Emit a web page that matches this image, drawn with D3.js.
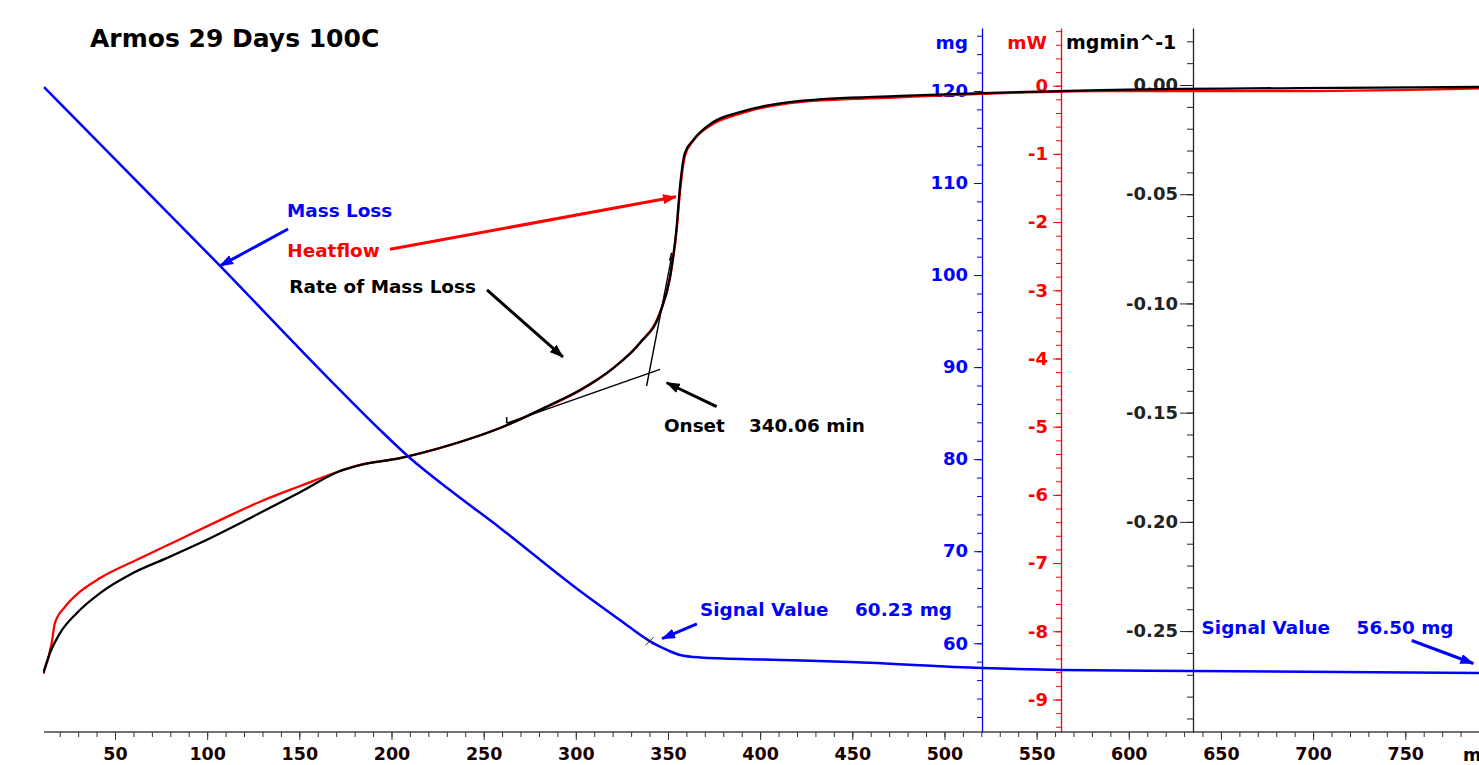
<!DOCTYPE html>
<html>
<head>
<meta charset="utf-8">
<script src="https://cdn.jsdelivr.net/npm/d3@7"></script>
<style>
  body { margin: 0; background: #fff; }
  svg text { font-family: "DejaVu Sans", Verdana, sans-serif; font-weight: bold; }
</style>
</head>
<body>
<div id="chart"></div>
<script>
const width = 1479;
const height = 765;

// mass (mg) vs time (min)
const massTime = [11.5, 107.0, 166.6, 193.8, 210.0, 231.7, 258.9, 300.1, 323.9, 340.06, 350.0, 356.5, 367.4, 400.0, 448.8, 520.4, 563.2, 634.8, 790];
const massMg   = [120.43, 101.0, 88.62, 83.17, 80.13, 76.65, 72.53, 66.01, 62.53, 60.23, 59.22, 58.73, 58.46, 58.24, 57.97, 57.32, 57.10, 57.0, 56.77];

// heatflow (mW) vs time (min)
const heatTime = [11.1, 15.6, 17.4, 22.9, 31.0, 41.9, 63.6, 85.3, 107.0, 128.7, 150.4, 172.1, 182.9, 204.6, 231.7, 258.9, 286.0, 302.3, 320.3, 334.8, 345.7, 351.1, 354.7, 356.5, 359.2, 363.7, 374.6, 389.1, 421.6, 475.9, 520.4, 584.4, 692.9, 790];
const heatMw   = [-8.62, -8.18, -7.88, -7.64, -7.42, -7.22, -6.93, -6.65, -6.37, -6.10, -5.87, -5.65, -5.56, -5.46, -5.27, -5.02, -4.69, -4.47, -4.14, -3.77, -3.32, -2.82, -2.12, -1.56, -1.03, -0.81, -0.56, -0.41, -0.24, -0.17, -0.12, -0.08, -0.08, -0.04];

// rate of mass loss (mg/min) vs time (min)
const rateTime = [11.1, 14.7, 20.2, 29.2, 41.9, 59.8, 78.0, 96.1, 123.2, 150.4, 172.1, 182.9, 204.6, 231.7, 258.9, 286.0, 302.3, 320.3, 334.8, 345.7, 351.1, 354.7, 356.5, 359.2, 363.7, 374.6, 389.1, 421.6, 475.9, 520.4, 584.4, 692.9, 790];
const rateVal  = [-0.2692, -0.2601, -0.2509, -0.2418, -0.2326, -0.2234, -0.2166, -0.2097, -0.1983, -0.1864, -0.1767, -0.1740, -0.1708, -0.1648, -0.1570, -0.1465, -0.1396, -0.1296, -0.1181, -0.1044, -0.0879, -0.0650, -0.0467, -0.0311, -0.0252, -0.0169, -0.0124, -0.0073, -0.0050, -0.0037, -0.0023, -0.0014, -0.0009];

// onset tangents on the rate curve
const tangentBase  = [[262.5, -0.1548], [345.7, -0.1302]];
const tangentSteep = [[338.4, -0.1378], [352.0, -0.0786]];
const onsetTime = 340.06;

// tick labels
const xTicks = d3.range(50, 751, 50);
const xMinor = d3.range(20, 791, 10);
const mgTicks = [60, 70, 80, 90, 100, 110, 120];
const mgMinor = d3.range(52, 127, 2);
const mwTicks = [-9, -8, -7, -6, -5, -4, -3, -2, -1, 0];
const mwMinor = d3.range(-94, 9, 2).map(d => d / 10);
const rateTicks = [-0.25, -0.20, -0.15, -0.10, -0.05, 0.00];
const rateMinor = d3.range(-29, 3, 1).map(d => d / 100);

// annotations, placed in (min, mg)
const arrows = [
  { color: "blue",  from: [143.9, 105.0], to: [107.0, 101.0] },
  { color: "red",   from: [199.2, 102.8], to: [354.3, 108.5] },
  { color: "black", from: [251.8, 98.4],  to: [293.0, 91.1] },
  { color: "black", from: [376.4, 85.7],  to: [349.3, 88.3] },
  { color: "blue",  from: [365.7, 62.1],  to: [346.8, 60.5] },
  { color: "blue",  from: [753.5, 60.3],  to: [786.9, 57.8] }
];
const notes = [
  { text: "Mass Loss",         at: [143.3, 106.26], color: "#0000ff" },
  { text: "Heatflow",          at: [143.5, 101.93], color: "#ff0000" },
  { text: "Rate of Mass Loss", at: [144.6, 98.09],  color: "#000" },
  { text: "Onset",             at: [347.8, 82.9],   color: "#000" },
  { text: "340.06 min",        at: [393.9, 82.9],   color: "#000" },
  { text: "Signal Value",      at: [367.4, 62.97],  color: "#0000ff" },
  { text: "60.23 mg",          at: [451.5, 62.97],  color: "#0000ff" },
  { text: "Signal Value",      at: [639.5, 60.98],  color: "#0000ff" },
  { text: "56.50 mg",          at: [723.6, 60.98],  color: "#0000ff" }
];

const colors = { blue: "#0000ff", red: "#ff0000", black: "#000" };

const x = d3.scaleLinear().domain([0, 790]).range([22.84, 1479]);
const yMg = d3.scaleLinear().domain([50.36, 126.84]).range([732, 28]);
const yMw = d3.scaleLinear().domain([-9.477, 0.846]).range([732, 28]);
const yRate = d3.scaleLinear().domain([-0.2962, 0.0261]).range([732, 28]);

const svg = d3.select("#chart").append("svg")
  .attr("width", width)
  .attr("height", height);

const defs = svg.append("defs");
Object.entries(colors).forEach(([id, c]) => {
  defs.append("marker")
    .attr("id", "arr-" + id)
    .attr("viewBox", "0 0 14 10")
    .attr("refX", 13).attr("refY", 5)
    .attr("markerWidth", 14).attr("markerHeight", 10)
    .attr("markerUnits", "userSpaceOnUse")
    .attr("orient", "auto")
    .append("path").attr("d", "M0,0L14,5L0,10z").attr("fill", c);
});
defs.append("clipPath").attr("id", "plot")
  .append("rect").attr("x", x(11)).attr("y", 0).attr("width", width).attr("height", 732);

function styleAxis(g, color, size) {
  g.attr("color", color)
    .attr("font-family", null)
    .attr("font-size", size || "18px")
    .attr("font-weight", "bold");
}

// x axis
const xAxisY = 732;
svg.append("g").attr("transform", `translate(0,${xAxisY})`)
  .call(d3.axisBottom(x).tickValues(xMinor).tickSize(5).tickFormat(""))
  .call(g => g.select(".domain").remove())
  .call(g => styleAxis(g, "#333"));
svg.append("g").attr("transform", `translate(0,${xAxisY})`)
  .call(d3.axisBottom(x).tickValues(xTicks).tickSize(8).tickPadding(8))
  .call(g => g.select(".domain").remove())
  .call(g => styleAxis(g, "#333", "17.5px"))
  .call(g => g.selectAll("text").attr("fill", "#1a0000"));
svg.append("line")
  .attr("x1", x(11.5)).attr("x2", width)
  .attr("y1", xAxisY).attr("y2", xAxisY)
  .attr("stroke", "#444").attr("stroke-width", 1.5);
svg.append("text").attr("x", 1463).attr("y", 760.5)
  .attr("font-size", "17.5px").text("min");

// y axes
function yAxis(scale, xpos, major, minor, majorSize, minorSize, pad, color, fmt) {
  svg.append("g").attr("transform", `translate(${xpos},0)`)
    .call(d3.axisLeft(scale).tickValues(minor).tickSize(minorSize).tickFormat("").tickSizeOuter(0))
    .call(g => g.select(".domain").remove())
    .call(g => styleAxis(g, color));
  svg.append("g").attr("transform", `translate(${xpos},0)`)
    .call(d3.axisLeft(scale).tickValues(major).tickSize(majorSize).tickPadding(pad).tickFormat(fmt).tickSizeOuter(0))
    .call(g => styleAxis(g, color))
    .call(g => g.select(".domain").attr("stroke-width", 1.3));
}
yAxis(yMg, 982, mgTicks, mgMinor, 8, 5, 6, "#0000ff", d3.format("d"));
yAxis(yMw, 1061, mwTicks, mwMinor, 8, 5, 5, "#ff0000", d => d === 0 ? "0" : "-" + Math.abs(d));
yAxis(yRate, 1193, rateTicks, rateMinor, 13, 6, 2, "#222", d => (d < 0 ? "-" : "") + Math.abs(d).toFixed(2));

// axis titles
svg.append("text").attr("x", 968).attr("y", 49).attr("text-anchor", "end")
  .attr("font-size", "18.5px").attr("fill", "#0000ff").text("mg");
svg.append("text").attr("x", 1047).attr("y", 49).attr("text-anchor", "end")
  .attr("font-size", "18.5px").attr("fill", "#ff0000").text("mW");
svg.append("text").attr("x", 1066).attr("y", 49)
  .attr("font-size", "19px").attr("fill", "#000").text("mgmin^-1");

// title
svg.append("text").attr("x", 90).attr("y", 47)
  .attr("font-size", "25px").attr("fill", "#000").text("Armos 29 Days 100C");

// curves
const plot = svg.append("g").attr("clip-path", "url(#plot)");
const heatData = heatTime.map((t, i) => [t, heatMw[i]]);
const rateData = rateTime.map((t, i) => [t, rateVal[i]]);
const massData = massTime.map((t, i) => [t, massMg[i]]);

plot.append("path").datum(heatData)
  .attr("fill", "none").attr("stroke", "#ff0000").attr("stroke-width", 2.3)
  .attr("d", d3.line().x(d => x(d[0])).y(d => yMw(d[1])).curve(d3.curveMonotoneX));
plot.append("path").datum(rateData)
  .attr("fill", "none").attr("stroke", "#000").attr("stroke-width", 2.3)
  .attr("d", d3.line().x(d => x(d[0])).y(d => yRate(d[1])).curve(d3.curveMonotoneX));

const tangentLine = d3.line().x(d => x(d[0])).y(d => yRate(d[1]));
[tangentBase, tangentSteep].forEach(seg => {
  plot.append("path").datum(seg)
    .attr("fill", "none").attr("stroke", "#000").attr("stroke-width", 1.4)
    .attr("d", tangentLine);
});
plot.append("line")
  .attr("x1", x(tangentBase[0][0])).attr("x2", x(tangentBase[0][0]))
  .attr("y1", yRate(tangentBase[0][1]) - 6).attr("y2", yRate(tangentBase[0][1]))
  .attr("stroke", "#000").attr("stroke-width", 1.5);
plot.append("line")
  .attr("x1", x(tangentSteep[1][0])).attr("x2", x(tangentSteep[1][0]) - 2)
  .attr("y1", yRate(tangentSteep[1][1]) - 4).attr("y2", yRate(tangentSteep[1][1]) + 4)
  .attr("stroke", "#000").attr("stroke-width", 1.5);

plot.append("path").datum(massData)
  .attr("fill", "none").attr("stroke", "#0000ff").attr("stroke-width", 2.5)
  .attr("d", d3.line().x(d => x(d[0])).y(d => yMg(d[1])).curve(d3.curveMonotoneX));

// signal value cross
const sx = x(onsetTime), sy = yMg(60.23);
svg.append("path")
  .attr("d", `M${sx - 4},${sy - 4}L${sx + 4},${sy + 4}M${sx - 4},${sy + 4}L${sx + 4},${sy - 4}`)
  .attr("stroke", "#222").attr("stroke-width", 1);

// annotations
svg.append("g").selectAll("line")
  .data(arrows)
  .enter()
  .append("line")
  .attr("x1", d => x(d.from[0])).attr("y1", d => yMg(d.from[1]))
  .attr("x2", d => x(d.to[0])).attr("y2", d => yMg(d.to[1]))
  .attr("stroke", d => colors[d.color])
  .attr("stroke-width", 3)
  .attr("marker-end", d => `url(#arr-${d.color})`);

svg.append("g").selectAll("text")
  .data(notes)
  .enter()
  .append("text")
  .attr("x", d => x(d.at[0]))
  .attr("y", d => yMg(d.at[1]))
  .attr("font-size", "18.4px")
  .attr("fill", d => d.color)
  .text(d => d.text);
</script>
</body>
</html>
